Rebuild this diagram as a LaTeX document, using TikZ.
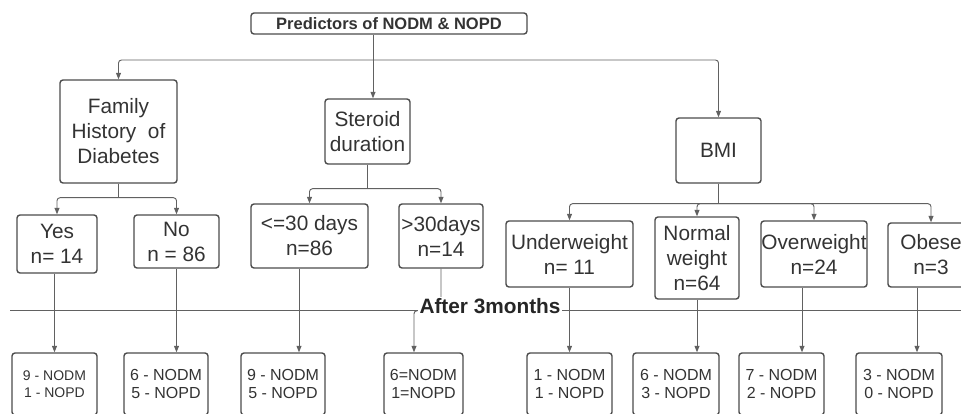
\documentclass[tikz,border=0pt]{standalone}
\usepackage{fontspec}
\setmainfont{Liberation Sans}
\usetikzlibrary{arrows.meta,calc}
\tikzset{
  box/.style={draw=black!70, line width=1.4pt, rounded corners=3pt, inner sep=0pt,
    align=center, text=black!80, font=\fontsize{20.8}{25}\selectfont},
  outbox/.style={box, font=\fontsize{16}{18.5}\selectfont, minimum height=62pt},
  link/.style={draw=black!62, line width=0.95pt, rounded corners=3pt},
  arr/.style={link, -{Triangle[length=6.5pt,width=5pt]}}
}
\begin{document}
\begin{tikzpicture}[x=1pt,y=-1pt]
\useasboundingbox (0,0) rectangle (961,413);
\clip (0,0) rectangle (961,413);

% top box
\node[box, font=\bfseries\fontsize{16.5}{18}\selectfont, minimum width=276pt, minimum height=21pt]
  (title) at (389,23.5) {Predictors of NODM \& NOPD};

% predictors and their groups
\foreach \name/\cx/\cy/\w/\h/\txt in {
    fam/118.5/131.5/117/103/{Family\\History~~of\\Diabetes},
    ster/367.5/131.5/85/65/{Steroid\\duration},
    bmi/718.5/150.5/85/65/{BMI},
    yes/57/244/80/58/{Yes\\n= 14},
    no/176.5/241.5/85/53/{No\\n = 86},
    le30/309.5/236/117/64/{<=30 days\\n=86},
    gt30/441/236/84/64/{>30days\\n=14},
    under/569.5/254/127/66/{Underweight\\n= 11},
    normal/697/258/84/82/{Normal\\weight\\n=64},
    over/814/254/106/66/{Overweight\\n=24},
    obese/931/255/86/64/{Obese\\n=3}}
  \node[box, minimum width=\w pt, minimum height=\h pt] (\name) at (\cx,\cy) {\txt};

% outcomes after 3 months
\node[outbox, font=\fontsize{14}{17}\selectfont, minimum width=85pt] (r1) at (54.5,384) {9 - NODM\\1 - NOPD};
\foreach \name/\cx/\w/\txt in {
    r2/166/84/{6 - NODM\\5 - NOPD},
    r3/283/84/{9 - NODM\\5 - NOPD},
    r4/423.5/79/{6=NODM\\1=NOPD},
    r5/569.5/85/{1 - NODM\\1 - NOPD},
    r6/676/86/{6 - NODM\\3 - NOPD},
    r7/781.5/85/{7 - NODM\\2 - NOPD},
    r8/899/86/{3 - NODM\\0 - NOPD}}
  \node[outbox, minimum width=\w pt] (\name) at (\cx,384) {\txt};

% splits
\coordinate (tsplit) at (373,60);
\coordinate (fsplit) at ($(fam.south)+(0,14)$);
\coordinate (ssplit) at ($(ster.south)+(0,24)$);
\coordinate (bsplit) at ($(bmi.south)+(0,20)$);

\draw[link] ($(title.south)+(-16,0)$) -- (tsplit);
\draw[arr] (tsplit) -| (fam.north);
\draw[arr] (tsplit) -- (tsplit |- ster.north);
\draw[arr] (tsplit) -| (bmi.north);

\draw[link] (fam.south) -- (fsplit);
\draw[arr] (fsplit) -| (yes.north);
\draw[arr] (fsplit) -| (no.north);

\draw[link] (ster.south) -- (ssplit);
\draw[arr] (ssplit) -| (le30.north);
\draw[arr] (ssplit) -| (gt30.north);

\draw[link] (bmi.south) -- (bsplit);
\foreach \g in {under,normal,over,obese}
  \draw[arr] (bsplit) -| (\g.north);

% down to outcomes
\foreach \src/\dst/\dx in {yes/r1/-2.5, no/r2/0, le30/r3/-10.5, under/r5/0,
    normal/r6/0, over/r7/-12, obese/r8/-14}
  \draw[arr] ($(\src.south)+(\dx,0)$) -- ($(\src.south |- \dst.north)+(\dx,0)$);
\draw[arr] (gt30.south) -- ++(0,42) -| ($(r4.north)+(-9.5,0)$);

% time line
\coordinate (lineL) at (10,310);
\coordinate (lineR) at (975,310);
\draw[draw=black!62, line width=0.95pt] (lineL) -- (lineR);
\node[fill=white, inner sep=1.5pt, text=black!85, font=\bfseries\fontsize{20.8}{25}\selectfont]
  (after) at (490,306.5) {After 3months};
\end{tikzpicture}
\end{document}
